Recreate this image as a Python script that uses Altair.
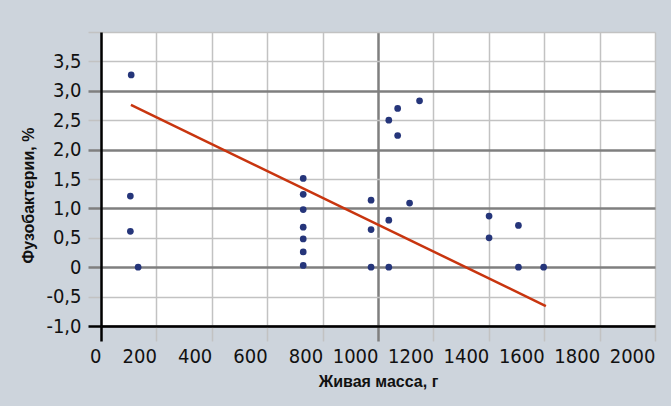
import altair as alt
import pandas as pd

# scatter data (live mass, g ; fusobacteria, %)
mass = [109, 106, 106, 134,
        730, 730, 730, 730, 730, 730, 730,
        975, 975, 975,
        1039, 1039, 1039,
        1071, 1071, 1150, 1114,
        1401, 1401, 1507, 1507, 1598]
fuso = [3.27, 1.21, 0.61, 0.0,
        1.51, 1.24, 0.98, 0.68, 0.48, 0.26, 0.03,
        1.14, 0.64, 0.0,
        2.50, 0.80, 0.0,
        2.70, 2.24, 2.83, 1.09,
        0.87, 0.50, 0.71, 0.0, 0.0]

# trend line end points
trend_x = [108, 1606]
trend_y = [2.76, -0.66]

x_ticks = list(range(0, 2001, 200))
y_ticks = [-1.0, -0.5, 0.0, 0.5, 1.0, 1.5, 2.0, 2.5, 3.0, 3.5, 4.0]

pts = pd.DataFrame({"x": mass, "y": fuso})
trend = pd.DataFrame({"x": trend_x, "y": trend_y})

FONT = "DejaVu Sans Condensed, Liberation Sans, Arial, sans-serif"
TFONT = "Liberation Sans, Arial, sans-serif"
DARK = "#7f7f7f"
LIGHT = "#c2c2c2"


def cond(pairs, default):
    return {"condition": [{"test": t, "value": v} for t, v in pairs], "value": default}


y_label = ("datum.value >= 4 ? '' : (datum.value == 0 ? '0' : "
           "replace(replace(format(datum.value, '.1f'), '.', ','), '\u2212', '-'))")

XMAJ = "datum.value == 1000"
YMAJ = "datum.value % 1 == 0 && datum.value < 4"

xscale = alt.Scale(domain=[0, 2000], nice=False, zero=False)
yscale = alt.Scale(domain=[-1, 4], nice=False, zero=False)

xaxis = alt.Axis(
    values=x_ticks, format="d", title="Живая масса, г",
    grid=True,
    gridColor=cond([(XMAJ, DARK)], LIGHT),
    gridWidth=cond([(XMAJ, 2.5)], 1.5),
    tickColor=cond([("datum.value == 0", "#000000"), (XMAJ, DARK)], LIGHT),
    tickWidth=cond([("datum.value == 0 || " + XMAJ, 2.5)], 1.5),
    tickSize=15, labelPadding=5, labelFontSize=20, labelFont=FONT, labelColor="#111111",
    labelAlign="right", labelFlush=False, labelOverlap=False,
    domainColor="#000000", domainWidth=2.5,
    titleFont=TFONT, titleFontSize=16, titleFontWeight="bold", titleColor="#111111",
    titlePadding=7,
)
yaxis = alt.Axis(
    values=y_ticks, labelExpr=y_label, title="Фузобактерии, %",
    grid=True,
    gridColor=cond([(YMAJ, DARK)], LIGHT),
    gridWidth=cond([(YMAJ, 2.5)], 1.5),
    tickColor=cond([("datum.value == -1", "#000000"), (YMAJ, DARK)], LIGHT),
    tickWidth=cond([(YMAJ, 2.5)], 1.5),
    tickSize=13, labelPadding=7, labelFontSize=20, labelFont=FONT, labelColor="#111111",
    labelFlush=False, labelOverlap=False,
    domainColor="#000000", domainWidth=2.5,
    titleFont=TFONT, titleFontSize=16, titleFontWeight="bold", titleColor="#111111",
    titlePadding=9, titleY=163,
)

points = alt.Chart(pts).mark_circle(size=45, color="#25357a", opacity=1).encode(
    x=alt.X("x:Q", scale=xscale, axis=xaxis),
    y=alt.Y("y:Q", scale=yscale, axis=yaxis),
)
line = alt.Chart(trend).mark_line(color="#c8350f", strokeWidth=2.5).encode(
    x=alt.X("x:Q", scale=xscale, axis=xaxis),
    y=alt.Y("y:Q", scale=yscale, axis=yaxis),
)

chart = alt.layer(line, points).properties(
    width=554, height=294,
    autosize=alt.AutoSizeParams(type="none"),
    padding={"left": 101, "top": 32, "right": 16, "bottom": 80},
    background="#cdd4dc",
).configure_view(fill="white", strokeWidth=0)

chart.save("out.html", embed_options={"renderer": "svg", "actions": False})
